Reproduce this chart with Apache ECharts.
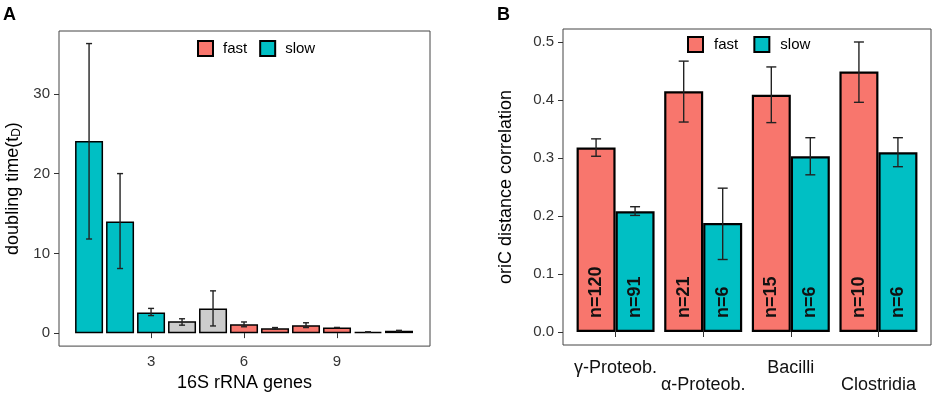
<!DOCTYPE html>
<html>
<head>
<meta charset="utf-8">
<script src="https://cdn.jsdelivr.net/npm/echarts@6/dist/echarts.min.js"></script>
<style>
  html, body { margin: 0; padding: 0; background: #fff; }
  #main { width: 935px; height: 397px; }
</style>
</head>
<body>
<div id="main"></div>
<script>
// panel A: doubling time by 16S rRNA gene copy number
var genes = [1, 2, 3, 4, 5, 6, 7, 8, 9, 10, 11];
var tdMean = [24.1, 14.0, 2.6, 1.5, 3.1, 1.1, 0.6, 1.0, 0.7, 0.15, 0.3];
var tdLo = [11.8, 8.1, 2.2, 1.0, 0.9, 0.8, 0.5, 0.7, 0.7, 0.15, 0.25];
var tdHi = [36.3, 20.0, 3.1, 1.8, 5.3, 1.4, 0.7, 1.3, 0.7, 0.15, 0.35];
var tdGroup = ['slow', 'slow', 'slow', 'other', 'other', 'fast', 'fast', 'fast', 'fast', 'fast', 'fast'];

// panel B: oriC distance correlation by class
var classes = ['γ-Proteob.', 'α-Proteob.', 'Bacilli', 'Clostridia'];
var corFast = [0.318, 0.415, 0.409, 0.449];
var corFastLo = [0.303, 0.362, 0.361, 0.396];
var corFastHi = [0.333, 0.467, 0.457, 0.500];
var corSlow = [0.208, 0.188, 0.303, 0.310];
var corSlowLo = [0.201, 0.125, 0.271, 0.285];
var corSlowHi = [0.216, 0.248, 0.335, 0.335];
var nFast = [120, 21, 15, 10];
var nSlow = [91, 6, 6, 6];

var FAST = '#F8766D', SLOW = '#00BFC4', OTHER = '#cccccc';
var FONT = 'Liberation Sans, Arial, sans-serif';

function barsFor(group) {
  var out = [];
  genes.forEach(function (g, i) {
    if (tdGroup[i] === group) out.push([g, tdMean[i]]);
  });
  return out;
}

function errSeries(xi, yi, data, offset, cap) {
  return {
    type: 'custom',
    xAxisIndex: xi, yAxisIndex: yi,
    z: 5, silent: true,
    data: data,
    renderItem: function (params, api) {
      var lo = api.coord([api.value(0), api.value(1)]);
      var hi = api.coord([api.value(0), api.value(2)]);
      var x = lo[0] + offset;
      var st = { stroke: '#222', lineWidth: 1.4 };
      return {
        type: 'group',
        children: [
          { type: 'line', shape: { x1: x, y1: lo[1], x2: x, y2: hi[1] }, style: st },
          { type: 'line', shape: { x1: x - cap, y1: lo[1], x2: x + cap, y2: lo[1] }, style: st },
          { type: 'line', shape: { x1: x - cap, y1: hi[1], x2: x + cap, y2: hi[1] }, style: st }
        ]
      };
    }
  };
}

var errA = genes.map(function (g, i) { return [g, tdLo[i], tdHi[i]]; });
var errBF = classes.map(function (c, i) { return [i + 1, corFastLo[i], corFastHi[i]]; });
var errBS = classes.map(function (c, i) { return [i + 1, corSlowLo[i], corSlowHi[i]]; });

var tickStyle = { show: true, length: 5, lineStyle: { color: '#333', width: 1 } };
var numLabel = { color: '#333', fontSize: 15, fontFamily: FONT };

var chart = echarts.init(document.getElementById('main'));
var option = {
  animation: false,
  textStyle: { fontFamily: FONT },
  title: [
    { text: 'A', left: -2, top: 1, textStyle: { fontSize: 18, fontWeight: 'bold', color: '#000' } },
    { text: 'B', left: 492, top: 1, textStyle: { fontSize: 18, fontWeight: 'bold', color: '#000' } }
  ],
  legend: [
    {
      data: ['fast', 'slow'], left: 192, top: 35,
      icon: 'rect', itemWidth: 15, itemHeight: 15, itemGap: 12,
      itemStyle: { borderColor: '#000', borderWidth: 2 },
      textStyle: { fontSize: 15, color: '#000', padding: [0, 0, 0, 5] },
      selectedMode: false
    },
    {
      data: ['fast ', 'slow '], left: 682, top: 31,
      icon: 'rect', itemWidth: 15, itemHeight: 15, itemGap: 11,
      itemStyle: { borderColor: '#000', borderWidth: 2 },
      textStyle: { fontSize: 15, color: '#000', padding: [0, 0, 0, 6] },
      selectedMode: false
    }
  ],
  grid: [
    { left: 59, top: 31, width: 371, height: 316, show: true, borderColor: '#444', borderWidth: 1 },
    { left: 563, top: 29, width: 368, height: 316, show: true, borderColor: '#444', borderWidth: 1 }
  ],
  xAxis: [
    {
      type: 'value', gridIndex: 0, min: 0.03, max: 12.0,
      name: '16S rRNA genes', nameLocation: 'middle', nameGap: 27,
      nameTextStyle: { fontSize: 18, color: '#000' },
      axisLine: { show: false }, splitLine: { show: false },
      axisTick: Object.assign({ customValues: [3, 6, 9] }, tickStyle),
      axisLabel: Object.assign({ customValues: [3, 6, 9], margin: 8 }, numLabel)
    },
    {
      type: 'value', gridIndex: 1, min: 0.4, max: 4.6,
      axisLine: { show: false }, splitLine: { show: false },
      axisTick: Object.assign({ customValues: [1, 2, 3, 4] }, tickStyle),
      axisLabel: {
        customValues: [1, 2, 3, 4], margin: 15, fontSize: 18, color: '#111', lineHeight: 17,
        formatter: function (v) {
          var i = Math.round(v) - 1;
          return (i % 2 ? '\n' : '') + classes[i];
        }
      }
    }
  ],
  yAxis: [
    {
      type: 'value', gridIndex: 0, min: -1.625, max: 37.875,
      name: 'doubling time(t{sub|D})', nameLocation: 'middle', nameGap: 36,
      nameTextStyle: { fontSize: 18, color: '#000', rich: { sub: { fontSize: 12, verticalAlign: 'bottom', padding: [8, 0, 0, 0], color: '#000' } } },
      axisLine: { show: false }, splitLine: { show: false },
      axisTick: Object.assign({ customValues: [0, 10, 20, 30] }, tickStyle),
      axisLabel: Object.assign({ customValues: [0, 10, 20, 30], margin: 9 }, numLabel)
    },
    {
      type: 'value', gridIndex: 1, min: -0.0224, max: 0.5224,
      name: 'oriC distance correlation', nameLocation: 'middle', nameGap: 48,
      nameTextStyle: { fontSize: 18, color: '#000' },
      axisLine: { show: false }, splitLine: { show: false },
      axisTick: Object.assign({ customValues: [0, 0.1, 0.2, 0.3, 0.4, 0.5] }, tickStyle),
      axisLabel: Object.assign({
        customValues: [0, 0.1, 0.2, 0.3, 0.4, 0.5], margin: 9,
        formatter: function (v) { return v.toFixed(1); }
      }, numLabel)
    }
  ],
  series: [
    {
      name: 'fast', type: 'bar', xAxisIndex: 0, yAxisIndex: 0,
      barWidth: 28, barGap: '-100%', data: barsFor('fast'),
      itemStyle: { color: FAST, borderColor: '#000', borderWidth: 1.5 }
    },
    {
      name: 'slow', type: 'bar', xAxisIndex: 0, yAxisIndex: 0,
      barWidth: 28, barGap: '-100%', data: barsFor('slow'),
      itemStyle: { color: SLOW, borderColor: '#000', borderWidth: 1.5 }
    },
    {
      name: 'other', type: 'bar', xAxisIndex: 0, yAxisIndex: 0,
      barWidth: 28, barGap: '-100%', data: barsFor('other'),
      itemStyle: { color: OTHER, borderColor: '#000', borderWidth: 1.5 }
    },
    errSeries(0, 0, errA, 0, 3),
    {
      name: 'fast ', type: 'bar', xAxisIndex: 1, yAxisIndex: 1,
      barWidth: 39, barGap: 0,
      data: classes.map(function (c, i) { return [i + 1, corFast[i]]; }),
      itemStyle: { color: FAST, borderColor: '#000', borderWidth: 2.2 },
      label: {
        show: true, position: 'insideBottom', rotate: 90, distance: 14,
        align: 'left', verticalAlign: 'middle',
        fontSize: 18, fontWeight: 'bold', color: '#111',
        formatter: function (p) { return 'n=' + nFast[p.dataIndex]; }
      }
    },
    {
      name: 'slow ', type: 'bar', xAxisIndex: 1, yAxisIndex: 1,
      barWidth: 39, barGap: 0,
      data: classes.map(function (c, i) { return [i + 1, corSlow[i]]; }),
      itemStyle: { color: SLOW, borderColor: '#000', borderWidth: 2.2 },
      label: {
        show: true, position: 'insideBottom', rotate: 90, distance: 14,
        align: 'left', verticalAlign: 'middle',
        fontSize: 18, fontWeight: 'bold', color: '#111',
        formatter: function (p) { return 'n=' + nSlow[p.dataIndex]; }
      }
    },
    errSeries(1, 1, errBF, -19.5, 5),
    errSeries(1, 1, errBS, 19.5, 5)
  ]
};
chart.setOption(option);
window.addEventListener('resize', function () {
  chart.resize();
});
</script>
</body>
</html>
